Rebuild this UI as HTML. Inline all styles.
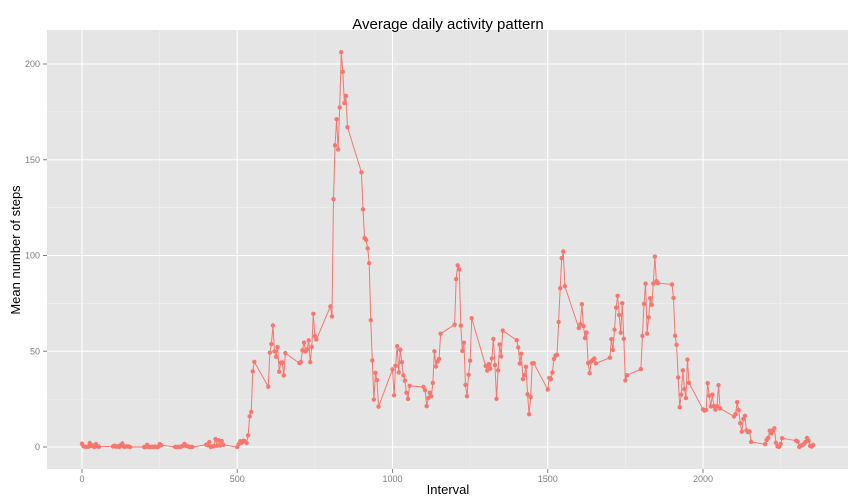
<!DOCTYPE html>
<html><head><meta charset="utf-8"><style>
body{margin:0;background:#fff;}
svg{display:block;font-family:"Liberation Sans",Arial,sans-serif;}
</style></head><body>
<svg id="chart" width="864" height="504">
<rect x="0" y="0" width="864" height="504" fill="#fff"/>
<rect x="47" y="30" width="801" height="439" fill="#e5e5e5"/>
<g id="grid"></g>
<g id="axes"></g>
<g id="series"></g>
<text x="448" y="29" text-anchor="middle" font-size="15" fill="#000">Average daily activity pattern</text>
<text x="448" y="494" text-anchor="middle" font-size="13" fill="#000">Interval</text>
<text x="20" y="250" text-anchor="middle" font-size="13" fill="#000" transform="rotate(-90 20 250)">Mean number of steps</text>
</svg>
<script>
const intervals=[0,5,10,15,20,25,30,35,40,45,50,55,100,105,110,115,120,125,130,135,140,145,150,155,200,205,210,215,220,225,230,235,240,245,250,255,300,305,310,315,320,325,330,335,340,345,350,355,400,405,410,415,420,425,430,435,440,445,450,455,500,505,510,515,520,525,530,535,540,545,550,555,600,605,610,615,620,625,630,635,640,645,650,655,700,705,710,715,720,725,730,735,740,745,750,755,800,805,810,815,820,825,830,835,840,845,850,855,900,905,910,915,920,925,930,935,940,945,950,955,1000,1005,1010,1015,1020,1025,1030,1035,1040,1045,1050,1055,1100,1105,1110,1115,1120,1125,1130,1135,1140,1145,1150,1155,1200,1205,1210,1215,1220,1225,1230,1235,1240,1245,1250,1255,1300,1305,1310,1315,1320,1325,1330,1335,1340,1345,1350,1355,1400,1405,1410,1415,1420,1425,1430,1435,1440,1445,1450,1455,1500,1505,1510,1515,1520,1525,1530,1535,1540,1545,1550,1555,1600,1605,1610,1615,1620,1625,1630,1635,1640,1645,1650,1655,1700,1705,1710,1715,1720,1725,1730,1735,1740,1745,1750,1755,1800,1805,1810,1815,1820,1825,1830,1835,1840,1845,1850,1855,1900,1905,1910,1915,1920,1925,1930,1935,1940,1945,1950,1955,2000,2005,2010,2015,2020,2025,2030,2035,2040,2045,2050,2055,2100,2105,2110,2115,2120,2125,2130,2135,2140,2145,2150,2155,2200,2205,2210,2215,2220,2225,2230,2235,2240,2245,2250,2255,2300,2305,2310,2315,2320,2325,2330,2335,2340,2345,2350,2355];
const steps=[1.72,0.34,0.13,0.15,0.08,2.09,0.53,0.87,0,1.47,0.30,0.13,0.32,0.68,0.15,0.34,0,1.11,1.83,0.17,0.17,0.38,0.26,0,0,0,1.13,0,0,0.13,0,0.23,0,0,1.55,0.94,0,0,0,0,0.21,0.62,1.62,0.58,0.49,0.08,0,0,1.19,0.94,2.57,0,0.34,0.36,4.11,0.66,3.49,0.83,3.11,1.11,0,1.57,3,2.25,3.32,2.96,2.09,6.06,16.02,18.34,39.45,44.49,31.49,49.26,53.77,63.45,49.96,47.08,52.15,39.34,44.02,44.17,37.36,49.04,43.81,44.38,50.51,54.51,49.92,50.98,55.68,44.32,52.26,69.55,57.85,56.15,73.38,68.21,129.43,157.53,171.15,155.40,177.30,206.17,195.92,179.57,183.40,167.02,143.45,124.04,109.11,108.11,103.72,95.96,66.21,45.23,24.79,38.75,34.98,21.06,40.57,26.98,42.42,52.66,38.92,50.79,44.28,37.42,34.70,28.34,25.09,31.94,31.36,29.68,21.32,25.55,28.38,26.47,33.43,49.98,42.04,44.60,46.04,59.19,63.87,87.70,94.85,92.77,63.40,50.17,54.47,32.42,26.53,37.74,45.06,67.28,42.34,39.89,43.26,40.98,46.25,56.43,42.75,25.13,39.96,53.55,47.32,60.81,55.75,51.96,43.58,48.70,35.47,37.55,41.85,27.51,17.11,26.08,43.62,43.77,30.02,36.08,35.49,38.85,45.96,47.75,48.13,65.32,82.91,98.66,102.11,83.96,62.13,64.13,74.55,63.17,56.91,59.77,43.87,38.57,44.66,45.45,46.21,43.68,46.62,56.30,50.72,61.23,72.72,78.94,68.94,59.66,75.09,56.51,34.77,37.45,40.68,58.02,74.70,85.32,59.26,67.77,77.70,74.25,85.34,99.45,86.58,85.60,84.87,77.83,58.04,53.36,36.32,20.72,27.40,40.02,30.21,25.55,45.66,33.53,19.62,19.02,19.34,33.34,26.81,21.17,27.30,21.34,19.55,21.32,32.30,20.15,15.94,17.23,23.45,19.25,12.45,8.02,14.66,16.30,8.68,7.79,8.13,2.62,1.45,3.68,4.81,8.51,7.08,8.70,9.75,2.21,0.32,0.11,1.60,4.60,3.30,2.85,0,0.83,0.96,1.58,2.60,4.70,3.30,0.64,0.23,1.08];
const xTicks=[0,500,1000,1500,2000];
const yTicks=[0,50,100,150,200];
const NS="http://www.w3.org/2000/svg";
const x=v=>82+v*(703-82)/2000;
const y=v=>447-v*(447-64)/200;
function mk(tag,attrs,parent){const e=document.createElementNS(NS,tag);for(const k in attrs)e.setAttribute(k,attrs[k]);document.getElementById(parent).appendChild(e);return e;}
// minor grid
for(let i=0;i<xTicks.length+1;i++){const v=xTicks[0]-250+i*500;const px=x(v);if(px>47&&px<848){const l=mk('line',{x1:px,x2:px,y1:30,y2:469,stroke:'#f2f2f2','stroke-width':0.5},'grid');

}}
for(let i=0;i<yTicks.length+1;i++){const v=yTicks[0]-25+i*50;const py=y(v);if(py>30&&py<469){const l=mk('line',{x1:47,x2:848,y1:py,y2:py,stroke:'#f2f2f2','stroke-width':0.5},'grid');

}}
xTicks.forEach(v=>{const px=x(v);
const l=mk('line',{x1:px,x2:px,y1:30,y2:469,stroke:'#fff','stroke-width':1.1},'grid');


const t=mk('line',{x1:px,x2:px,y1:469,y2:473,stroke:'#7f7f7f'},'axes');


const tx=mk('text',{x:px,y:482,'text-anchor':'middle','font-size':9,fill:'#7f7f7f'},'axes');tx.textContent=v;

});
yTicks.forEach(v=>{const py=y(v);
const l=mk('line',{x1:47,x2:848,y1:py,y2:py,stroke:'#fff','stroke-width':1.1},'grid');


const t=mk('line',{x1:43,x2:47,y1:py,y2:py,stroke:'#7f7f7f'},'axes');


const tx=mk('text',{x:40,y:py+3,'text-anchor':'end','font-size':9,fill:'#7f7f7f'},'axes');tx.textContent=v;

});
const d=intervals.map((v,i)=>(i?'L':'M')+x(v).toFixed(2)+','+y(steps[i]).toFixed(2)).join('');
const line=mk('path',{d:d,fill:'none',stroke:'#f8766d','stroke-width':1},'series');


intervals.forEach((v,i)=>{const c=mk('circle',{cx:x(v),cy:y(steps[i]),r:2.2,fill:'#f8766d'},'series');

});
</script>
</body></html>
